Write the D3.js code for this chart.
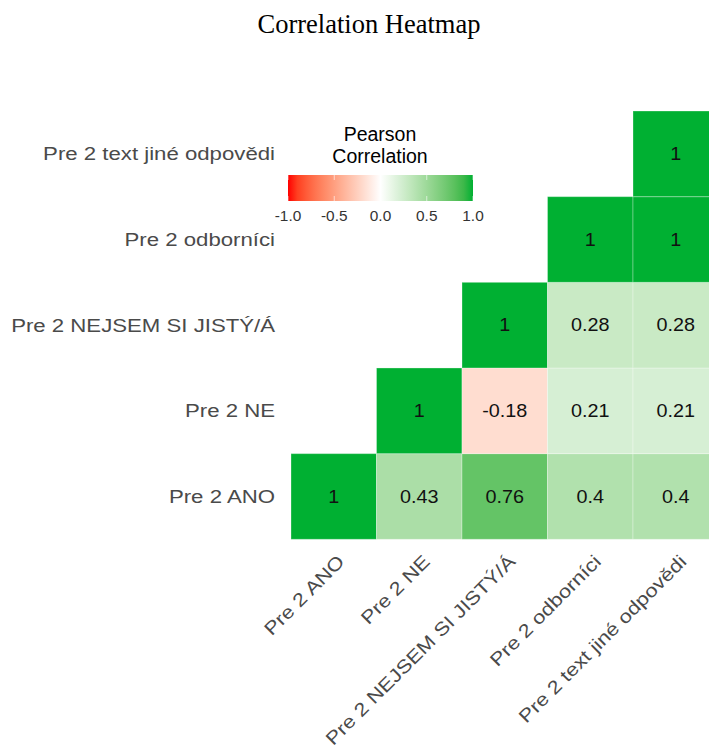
<!DOCTYPE html>
<html><head><meta charset="utf-8">
<script src="https://cdn.jsdelivr.net/npm/d3@7"></script>
<style>body{margin:0;background:#fff}svg{display:block}</style>
</head><body>
<script>
const variables = ["Pre 2 ANO","Pre 2 NE","Pre 2 NEJSEM SI JISTÝ/Á","Pre 2 odborníci","Pre 2 text jiné odpovědi"];
// upper triangle values: rows = variable i, cols = variable j (j >= i)
const rowANO = [1, 0.43, 0.76, 0.4, 0.4];
const rowNE = [null, 1, -0.18, 0.21, 0.21];
const rowNEJSEM = [null, null, 1, 0.28, 0.28];
const rowOdb = [null, null, null, 1, 1];
const rowText = [null, null, null, null, 1];
const matrix = [rowANO, rowNE, rowNEJSEM, rowOdb, rowText];
const legendTicks = [-1.0, -0.5, 0.0, 0.5, 1.0];
const title = "Correlation Heatmap";
const legendTitle = ["Pearson", "Correlation"];

const W = 709, H = 753;
const SANS = "Liberation Sans, Arial, Helvetica, sans-serif";
const svg = d3.select("body").append("svg").attr("width", W).attr("height", H);

const x = d3.scaleBand().domain(variables).range([291, 718.5]).padding(0);
const y = d3.scaleBand().domain(variables).range([539.3, 111]).padding(0);
const color = d3.scaleLinear().domain([-1, 0, 1]).range(["#ff0000", "#ffffff", "#00b032"]).interpolate(d3.interpolateLab);

const cells = [];
matrix.forEach((row, i) => row.forEach((v, j) => { if (v !== null) cells.push({r: variables[i], c: variables[j], v}); }));

const g = svg.append("g");
g.selectAll("rect").data(cells).join("rect")
  .attr("x", d => x(d.c)).attr("y", d => y(d.r))
  .attr("width", x.bandwidth()).attr("height", y.bandwidth())
  .attr("fill", d => color(d.v))
  .attr("stroke", "rgba(255,255,255,0.3)").attr("stroke-width", 1);

g.selectAll("text.val").data(cells).join("text").attr("class","val")
  .attr("transform", d => `translate(${x(d.c) + x.bandwidth()/2},${y(d.r) + y.bandwidth()/2}) scale(1.1,1)`)
  .attr("text-anchor","middle").attr("dy","0.35em")
  .attr("font-family",SANS).attr("font-size",18).attr("fill","#111")
  .text(d => String(d.v));

// y axis labels
svg.append("g").selectAll("text").data(variables).join("text")
  .attr("transform", d => `translate(275,${y(d) + y.bandwidth()/2}) scale(1.2,1)`)
  .attr("text-anchor","end").attr("dy","0.35em")
  .attr("font-family",SANS).attr("font-size",18.5).attr("fill","#4a4a4a")
  .text(d => d);

// x axis labels
svg.append("g").selectAll("text").data(variables).join("text")
  .attr("transform", d => `translate(${x(d) + x.bandwidth()/2 + 2},${553}) rotate(-45) scale(1.18,1)`)
  .attr("text-anchor","end").attr("dy","0.75em")
  .attr("font-family",SANS).attr("font-size",18.5).attr("fill","#4a4a4a")
  .text(d => d);

// title
svg.append("text").attr("x", 369).attr("y", 33).attr("text-anchor","middle")
  .attr("font-family","Liberation Serif, Times New Roman, serif").attr("font-size",26.5).attr("fill","#000")
  .text(title);

// legend
const lx = d3.scaleLinear().domain([-1, 1]).range([288, 473]);
const defs = svg.append("defs");
const grad = defs.append("linearGradient").attr("id","lg").attr("x1","0%").attr("x2","100%");
d3.range(0, 1.0001, 0.05).forEach(t => grad.append("stop").attr("offset", (t*100)+"%").attr("stop-color", color(-1 + 2*t)));
svg.append("rect").attr("x", lx(-1)).attr("y", 175).attr("width", lx(1)-lx(-1)).attr("height", 26).attr("fill","url(#lg)");
svg.append("g").selectAll("line").data(legendTicks).join("line")
  .attr("x1", d => lx(d)).attr("x2", d => lx(d)).attr("y1", 175).attr("y2", 180)
  .attr("stroke","rgba(255,255,255,0.6)");
svg.append("g").selectAll("line").data(legendTicks).join("line")
  .attr("x1", d => lx(d)).attr("x2", d => lx(d)).attr("y1", 196).attr("y2", 201)
  .attr("stroke","rgba(255,255,255,0.6)");
svg.append("g").selectAll("text").data(legendTicks).join("text")
  .attr("transform", d => `translate(${lx(d)},221) scale(1.1,1)`).attr("text-anchor","middle")
  .attr("font-family",SANS).attr("font-size",14).attr("fill","#333")
  .text(d => d3.format(".1f")(d).replace("−","-"));
svg.append("g").selectAll("text").data(legendTitle).join("text")
  .attr("x", 380).attr("y", (d,i) => 140.5 + i*22).attr("text-anchor","middle")
  .attr("font-family",SANS).attr("font-size",19.5).attr("fill","#000")
  .text(d => d);
</script>
</body></html>
